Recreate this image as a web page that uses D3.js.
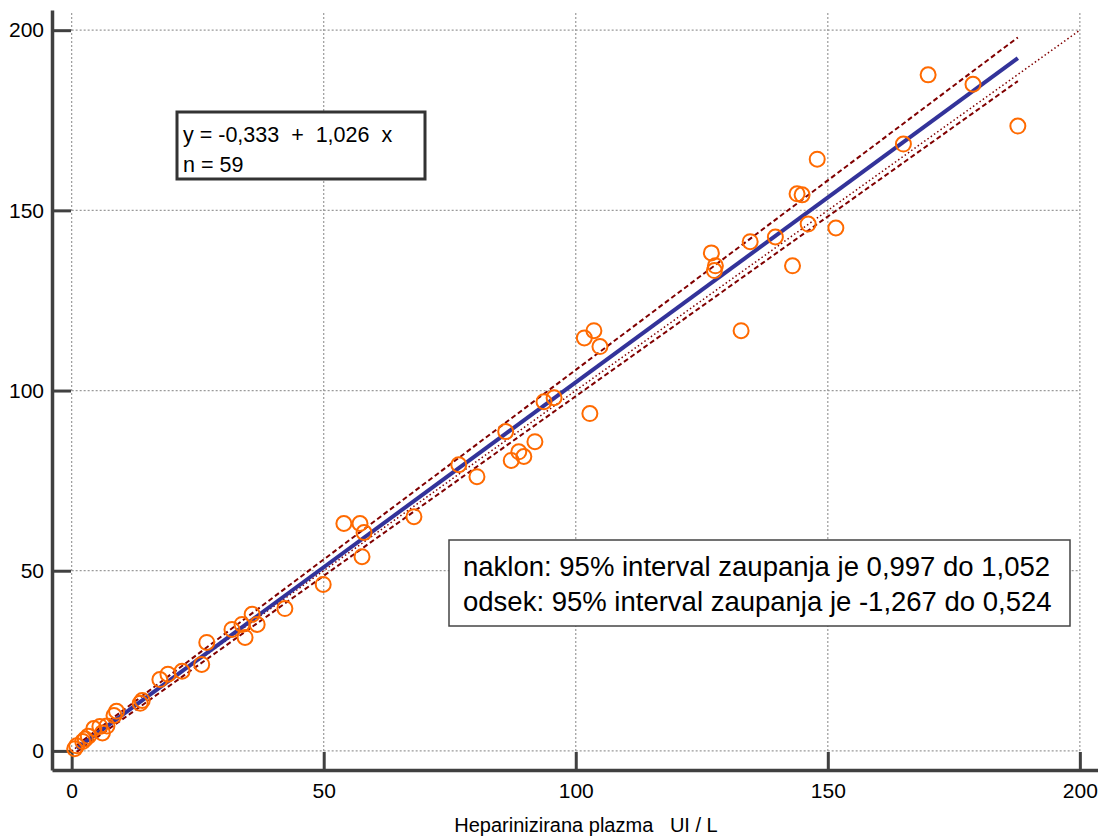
<!DOCTYPE html>
<html>
<head>
<meta charset="utf-8">
<script src="https://cdn.jsdelivr.net/npm/d3@7"></script>
<style>
  body { margin: 0; background: #fff; }
  svg text { font-family: "Liberation Sans", Arial, sans-serif; fill: #000; }
</style>
</head>
<body>
<div id="chart"></div>
<script>
// measured values, x = heparinized plasma, y = other method
const xValues = [169.9, 178.8, 187.7, 165.0, 147.9, 143.9, 144.9, 146.1, 151.6, 139.6, 134.6, 126.9, 127.7, 127.5, 143.0, 132.8,
    101.7, 103.6, 104.8, 95.7, 93.7, 102.8, 86.1, 91.9, 88.7, 89.7, 87.2, 76.8, 80.4, 67.9,
    54.0, 57.2, 58.0, 57.6, 49.9, 42.3,
    35.8, 36.8, 33.8, 34.4, 31.8, 26.8, 25.8, 21.9, 19.1, 17.5,
    14.0, 13.6, 8.9, 8.4, 7.0, 5.6, 4.4, 6.1, 3.3, 2.7, 2.2, 1.0, 0.6];
const yValues = [187.6, 185.0, 173.4, 168.4, 164.2, 154.6, 154.3, 146.2, 145.1, 142.6, 141.3, 138.2, 134.6, 133.3, 134.6, 116.6,
    114.6, 116.6, 112.2, 98.0, 96.9, 93.6, 88.6, 85.8, 83.0, 81.7, 80.6, 79.4, 76.1, 65.0,
    63.1, 63.1, 60.6, 53.9, 46.2, 39.5,
    37.9, 35.1, 35.1, 31.5, 33.7, 30.1, 24.0, 22.1, 21.3, 19.8,
    14.0, 13.2, 11.0, 9.8, 6.9, 6.8, 6.2, 5.0, 4.1, 3.3, 2.6, 1.4, 0.6];

const xTicks = [0, 50, 100, 150, 200];
const yTicks = [0, 50, 100, 150, 200];

// regression and confidence limits (intercept, slope)
const fitLine = [-0.333, 1.026];
const upperLine = [0.524, 1.052];
const lowerLine = [-1.267, 0.997];
const fitRange = [1.0, 187.7];
const identityRange = [0, 200];

const eqLines = ["y = -0,333  +  1,026  x", "n = 59"];
const ciLines = ["naklon: 95% interval zaupanja je 0,997 do 1,052",
                 "odsek: 95% interval zaupanja je -1,267 do 0,524"];
const xTitle = "Heparinizirana plazma   UI / L";

const width = 1098;
const height = 838;

const svg = d3.select("#chart").append("svg")
    .attr("width", width)
    .attr("height", height);

const x = d3.scaleLinear().domain([-3.9, 203.6]).range([52, 1098]);
const y = d3.scaleLinear().domain([-5.3, 205.6]).range([770, 10]);

// grid
const grid = svg.append("g")
    .attr("stroke", "#9a9a9a")
    .attr("stroke-width", 1.2)
    .attr("stroke-dasharray", "2,2");
grid.selectAll("line.h").data(yTicks).join("line")
    .attr("x1", x(0)).attr("x2", x(200))
    .attr("y1", d => y(d)).attr("y2", d => y(d));
grid.selectAll("line.v").data(xTicks).join("line")
    .attr("x1", d => x(d)).attr("x2", d => x(d))
    .attr("y1", y(0)).attr("y2", y(205));

// axes
const axisColor = "#404040";
const yAxis = svg.append("g")
    .attr("transform", `translate(${x.range()[0]},0)`)
    .call(d3.axisLeft(y).tickValues(yTicks).tickSizeInner(-19).tickSizeOuter(0).tickPadding(8));
const xAxis = svg.append("g")
    .attr("transform", `translate(0,${y.range()[0]})`)
    .call(d3.axisBottom(x).tickValues(xTicks).tickSizeInner(-18).tickSizeOuter(0).tickPadding(13));

[xAxis, yAxis].forEach(g => {
    g.select(".domain").attr("stroke", axisColor).attr("stroke-width", 3.5);
    g.selectAll(".tick line").attr("stroke", axisColor).attr("stroke-width", 3);
    g.selectAll(".tick text").attr("font-size", 21).attr("fill", "#000")
        .attr("font-family", "Liberation Sans, Arial, sans-serif");
});

// lines
const lineFor = (p, r) => d3.line().x(d => x(d)).y(d => y(p[0] + p[1] * d))(r);

svg.append("path")
    .attr("d", lineFor([0, 1], identityRange))
    .attr("fill", "none").attr("stroke", "#800000")
    .attr("stroke-width", 1.5).attr("stroke-dasharray", "1.5,2.5");

[upperLine, lowerLine].forEach(p => {
    svg.append("path")
        .attr("d", lineFor(p, fitRange))
        .attr("fill", "none").attr("stroke", "#800000")
        .attr("stroke-width", 2).attr("stroke-dasharray", "5,3");
});

svg.append("path")
    .attr("d", lineFor(fitLine, fitRange))
    .attr("fill", "none").attr("stroke", "#33339a")
    .attr("stroke-width", 4);

// points
svg.append("g").selectAll("circle")
    .data(d3.range(xValues.length))
    .join("circle")
    .attr("cx", i => x(xValues[i]))
    .attr("cy", i => y(yValues[i]))
    .attr("r", 7.5)
    .attr("fill", "none")
    .attr("stroke", "#ff6a00")
    .attr("stroke-width", 2);

// equation box
svg.append("rect")
    .attr("x", 177).attr("y", 112).attr("width", 248).attr("height", 67)
    .attr("fill", "#fff").attr("stroke", "#333").attr("stroke-width", 3);
svg.append("g").selectAll("text").data(eqLines).join("text")
    .attr("x", 183).attr("y", (d, i) => 142 + i * 30)
    .attr("font-size", 21.5)
    .style("white-space", "pre")
    .text(d => d);

// CI box
svg.append("rect")
    .attr("x", 449).attr("y", 540).attr("width", 621).attr("height", 86)
    .attr("fill", "#fff").attr("stroke", "#444").attr("stroke-width", 1.5);
svg.append("g").selectAll("text").data(ciLines).join("text")
    .attr("x", 463).attr("y", (d, i) => 576 + i * 35)
    .attr("font-size", 27.5)
    .text(d => d);

// x title
svg.append("text")
    .attr("x", 586).attr("y", 832)
    .attr("text-anchor", "middle")
    .attr("font-size", 20)
    .style("white-space", "pre")
    .text(xTitle);
</script>
</body>
</html>
